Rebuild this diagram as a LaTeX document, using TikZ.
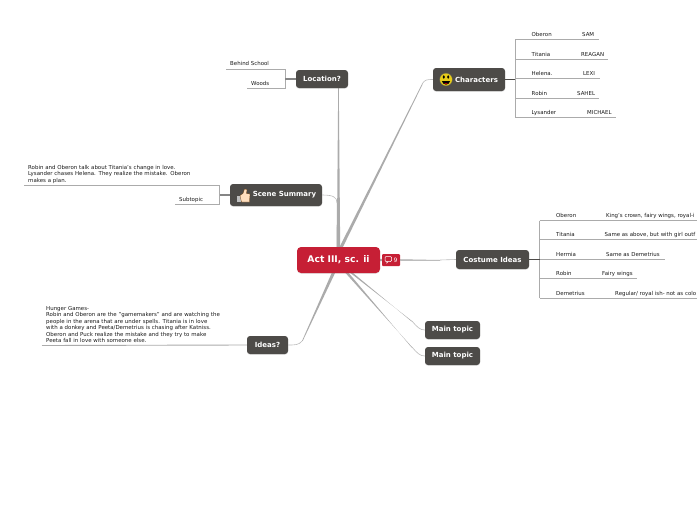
\documentclass[tikz,border=0pt]{standalone}
\usepackage{fontspec}
\setmainfont{DejaVu Sans}
\usetikzlibrary{shadows}
\tikzset{
 x=1pt,y=-1pt,
 topic/.style={draw=none,fill=topicgrey,rounded corners=3pt,text=white,font=\bfseries\fontsize{7}{8}\selectfont,inner sep=0pt,anchor=center,drop shadow={opacity=.2,shadow xshift=0pt,shadow yshift=-.8pt}},
 leaf/.style={font=\fontsize{5.45}{6.5}\selectfont,text=black!90,inner sep=0pt,anchor=west,align=left},
 rowleaf/.style={leaf,anchor=base west},
 uline/.style={draw=linegrey,line width=.9pt},
 stem/.style={draw=stemgrey,line width=1.2pt},
 softstem/.style={draw=softgrey,line width=1.2pt},
 thin/.style={draw=linegrey!80,line width=.6pt},
 wedge/.style={fill=linegrey,draw=none},
}
\definecolor{topicgrey}{HTML}{4D4B48}
\definecolor{linegrey}{HTML}{ABABAB}
\definecolor{softgrey}{HTML}{858585}
\definecolor{stemgrey}{HTML}{4D4B48}
\definecolor{redc}{HTML}{C61F35}
% #1 bracket x, #2 name x, #3 y, #4 name, #5 value x, #6 value, #7 line end
\newcommand{\leafrow}[7]{%
  \node[rowleaf] at (#2,#3+1.9) {#4};
  \node[rowleaf] at (#5,#3+1.9) {#6};
  \draw[uline] (#1,#3+5) -- (#7,#3+5);
}
\begin{document}
\begin{tikzpicture}
\useasboundingbox (0,0) rectangle (697,520);
\clip (0,0) rectangle (697,520);
% anchor coordinates
\coordinate (cc) at (338.5,260);
\coordinate (e1) at (422,84);
\coordinate (e2) at (338.5,88);
\coordinate (e3) at (337,203);
\coordinate (e4) at (440,260);
\coordinate (e5) at (412,321);
\coordinate (e6) at (412,347);
\coordinate (e7) at (302,341);
% tapered branches
\fill[wedge] (337,252) -- (e1) -- (422.6,84.3) -- (340.5,252) -- cycle;
\fill[wedge] (336.8,250) -- (338.2,88) -- (338.8,88) -- (340.2,250) -- cycle;
\fill[wedge] (336.5,250) -- (337,199) -- (337.6,199) -- (339.5,250) -- cycle;
\fill[wedge] (375,258.8) -- (e4) -- (440,260.6) -- (375,261.2) -- cycle;
\fill[wedge] (344,268) -- (e5) -- (411.6,321.5) -- (347,268) -- cycle;
\fill[wedge] (341,268) -- (e6) -- (411.6,347.5) -- (344.5,268) -- cycle;
\fill[wedge] (333,270) -- (e7) -- (302.6,341.2) -- (336.5,270) -- cycle;
% nodes
\node[topic,fill=redc,rounded corners=4pt,font=\bfseries\fontsize{9.2}{10}\selectfont,minimum width=83pt,minimum height=26pt] (c) at (338.5,260) {Act III, sc. ii};
\node[draw=none,fill=redc,rounded corners=1pt,minimum width=18pt,minimum height=12pt,inner sep=0pt] (badge) at (391,260) {};
\node[font=\fontsize{6}{7}\selectfont,text=white,inner sep=0pt] (nine) at (395.5,260.3) {9};
\draw[white,line width=.5pt,rounded corners=1pt] (385,256.5) rectangle (391.5,261.5);
\fill[white] (386.5,261.5) -- (386.5,263.8) -- (388.6,261.5) -- cycle;
\node[topic,minimum width=72pt,minimum height=23pt] (char) at (469,79.5) {\hspace{15pt}Characters};
\node[topic,minimum width=52pt,minimum height=18pt] (loc) at (322,79) {Location?};
\node[topic,minimum width=92pt,minimum height=22pt] (scene) at (276,195) {\hspace{17pt}Scene Summary};
\node[topic,minimum width=73pt,minimum height=19pt] (cost) at (492.5,259.5) {Costume Ideas};
\node[topic,minimum width=55pt,minimum height=18pt] (m1) at (452.5,330) {Main topic};
\node[topic,minimum width=55pt,minimum height=18pt] (m2) at (452.5,356) {Main topic};
\node[topic,minimum width=41pt,minimum height=18pt] (ideas) at (267.5,345) {Ideas?};
% thin ends of branches
\draw[thin] (e1) .. controls (425,79.5) and (427,79.5) .. (char.west);
\draw[thin] (e3) .. controls (337,197) and (333,195) .. (scene.east);
\draw[thin] (e4) -- (cost.west);
\draw[thin] (e5) .. controls (417,327) and (420,330) .. (m1.west);
\draw[thin] (e6) .. controls (417,353) and (420,356) .. (m2.west);
\draw[thin] (e7) .. controls (299,345) and (295,345) .. (ideas.east);
\draw[thin] (badge.east) -- (e4);
% emoji: smiley
\fill[black!60!yellow] (446,79.5) circle (6.6pt);
\fill[yellow!80!orange!90!black] (446,79.5) circle (6pt);
\fill[black] (443.8,77) ellipse (1.1pt and 1.9pt) (448.2,77) ellipse (1.1pt and 1.9pt);
\fill[black] (441.8,81) .. controls (443,85.8) and (449,85.8) .. (450.2,81) -- cycle;
\fill[red!70!black] (444,83.2) .. controls (445,84.6) and (447,84.6) .. (448,83.2) -- cycle;
% emoji: thumb
\fill[black!25] (237,195.5) rectangle (240.5,202);
\fill[orange!25!white] (240,195.5) -- (243,193.5) -- (244.5,189) -- (247,189.5) -- (246.5,193.5) -- (250,194) -- (249.5,202) -- (241.5,202) -- cycle;
\draw[orange!40!black,line width=.25pt] (240,195.5) -- (243,193.5) -- (244.5,189) -- (247,189.5) -- (246.5,193.5) -- (250,194) -- (249.5,202) -- (241.5,202) -- cycle;
% Location leaves
\coordinate (lb) at (285,79);
\coordinate (l1e) at (226,69);
\coordinate (l2e) at (247,88.5);
\node[leaf] (l1) at (230,63.5) {Behind School};
\node[leaf] (l2) at (251,83.5) {Woods};
\draw[uline] (l1e) -- (285,69) -- (285,88.5) -- (l2e);
\draw[softstem] (loc.west) -- (lb);
% Scene leaves
\coordinate (sb) at (219.5,195);
\coordinate (s1e) at (24,185.5);
\coordinate (s2e) at (175,204.5);
\node[leaf,text width=185pt] (s1) at (28,174) {Robin and Oberon talk about Titania's change in love.\\Lysander chases Helena. They realize the mistake. Oberon\\makes a plan.};
\node[leaf] (s2) at (179,199.5) {Subtopic};
\draw[uline] (s1e) -- (219.5,185.5) -- (219.5,204.5) -- (s2e);
\draw[softstem] (scene.west) -- (sb);
% Ideas leaf
\coordinate (ie) at (42,345.5);
\node[leaf,text width=200pt] (i1) at (46,324.5) {Hunger Games-\\Robin and Oberon are the "gamemakers" and are watching the\\people in the arena that are under spells. Titania is in love\\with a donkey and Peeta/Demetrius is chasing after Katniss.\\Oberon and Puck realize the mistake and they try to make\\Peeta fall in love with someone else.};
\draw[uline] (ideas.west) -- (ie);
% Characters leaves
\draw[uline] (515,40) -- (515,118);
\leafrow{515}{531.5}{34.5}{Oberon}{582}{SAM}{598.5}
\leafrow{515}{531.5}{54.5}{Titania}{581}{REAGAN}{608}
\leafrow{515}{531.5}{73.5}{Helena.}{583}{LEXI}{600}
\leafrow{515}{531.5}{93.5}{Robin}{577}{SAHEL}{599}
\leafrow{515}{531.5}{112.5}{Lysander}{587}{MICHAEL}{616}
\coordinate (cb) at (515,79.5);
\draw[stem] (char.east) -- (cb);
% Costume leaves
\draw[uline] (539.5,220.5) -- (539.5,298);
\leafrow{539.5}{556}{215.5}{Oberon}{606}{King's crown, fairy wings, royal-i}{697}
\leafrow{539.5}{556}{234.5}{Titania}{604.5}{Same as above, but with girl outf}{697}
\leafrow{539.5}{556}{254.5}{Hermia}{606}{Same as Demetrius}{665}
\leafrow{539.5}{556}{273.5}{Robin}{602}{Fairy wings}{637}
\leafrow{539.5}{556}{293.5}{Demetrius}{615}{Regular/ royal ish- not as colo}{697}
\coordinate (kb) at (539.5,259.5);
\draw[stem] (cost.east) -- (kb);
\end{tikzpicture}
\end{document}
